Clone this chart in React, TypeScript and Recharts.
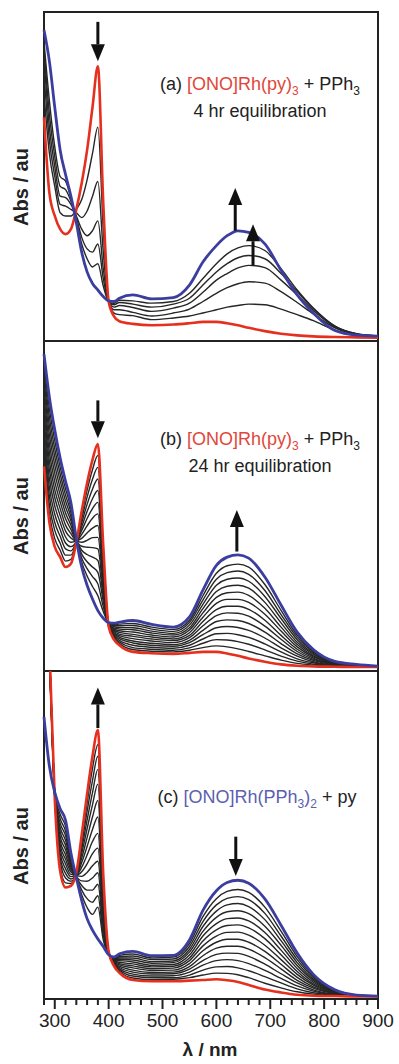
import React from 'react';
import { LineChart, Line, XAxis, YAxis, ReferenceArea, ReferenceLine } from 'recharts';

// wavelength grid (nm) shared by every spectrum
const wavelengths = [280, 290, 300, 310, 320, 330, 340, 350, 360, 370, 380, 390, 400, 410, 420, 445, 480, 520, 550, 575, 600, 620, 640, 660, 690, 720, 750, 780, 820, 860, 900];

// (a) 4 hr equilibration
const redA = [68, 45, 38, 34, 32.5, 34, 40, 48, 58, 71, 83.5, 42, 12, 7.5, 6, 5.2, 4.8, 5, 5.4, 5.8, 5.8, 5.4, 4.8, 4.0, 3.0, 2.2, 1.7, 1.4, 1.2, 1.1, 1.0];
const blueA = [94.5, 85, 71, 58, 50.6, 44, 36, 27, 21, 17.5, 15.5, 13.5, 12.2, 12, 13, 14, 12.8, 13.2, 17, 24, 29, 32, 33.5, 33, 29.5, 21.5, 14, 8.5, 3.2, 1.8, 1.5];
const blackA = [
  [75, 57, 47, 39, 38, 38, 40, 43, 49, 57, 65, 34, 12, 8.5, 8, 7.7, 6.5, 7, 7.6, 8.5, 9.5, 10.3, 10.8, 11.2, 11, 9.7, 8, 6.2, 3.3, 1.8, 1.3],
  [81, 61, 50, 41.5, 41, 40, 39, 37.5, 39.5, 44, 48.5, 27, 12, 9.5, 9.5, 8.7, 7.6, 8.5, 9.7, 12, 14.5, 16.2, 17.4, 18, 17.6, 15, 11.7, 8.2, 4, 2, 1.4],
  [86, 65, 53, 44, 43.6, 41.5, 38, 34, 32, 33.5, 36.5, 22, 12, 10.3, 10.8, 10.2, 9, 10, 11.5, 14.8, 18.5, 20.5, 22.2, 23, 22.3, 18.5, 14, 9.3, 4.3, 2.1, 1.4],
  [89, 69, 56, 47, 46, 42.5, 37.5, 31.5, 28, 27, 29.5, 19, 12, 11, 11.7, 11.2, 10.3, 11.2, 13, 17, 21, 23.5, 25.3, 26, 25, 20.5, 15, 9.8, 4.5, 2.2, 1.5],
  [91, 73, 59, 50, 48.6, 43.5, 37, 29.5, 25, 22.5, 23.5, 16.7, 12, 11.4, 12.4, 12.2, 11.5, 12, 14.5, 19, 23.5, 26.5, 28.3, 29, 27.5, 22, 15.5, 10, 4.5, 2.2, 1.5],
];

// (b) 24 hr equilibration
const redB = [62, 45, 37.6, 34.5, 31.5, 32.5, 39, 48.5, 57, 64, 68.8, 38, 13.5, 9.5, 7.8, 5.8, 5.4, 5.2, 5.5, 5.8, 5.8, 5.3, 4.6, 3.8, 2.8, 2.0, 1.6, 1.4, 1.3, 1.2, 1.2];
const blueB = [96, 83, 73, 64.5, 57.5, 51, 40, 31.5, 26, 21.8, 18.3, 16, 14.7, 14.5, 14.8, 15.3, 14.1, 13.3, 16.4, 24.5, 32, 34.5, 35.2, 34.2, 28.5, 20, 11.8, 6.5, 2.9, 2.0, 1.5];
const blackB = [
  [64.4, 47.7, 40.1, 36.6, 33.3, 33.8, 39.1, 47.3, 54.8, 61.0, 65.3, 36.5, 13.6, 9.9, 8.3, 6.5, 6.0, 5.8, 6.3, 7.1, 7.6, 7.3, 6.7, 5.9, 4.6, 3.3, 2.3, 1.8, 1.4, 1.3, 1.2],
  [66.8, 50.3, 42.6, 38.7, 35.1, 35.1, 39.1, 46.1, 52.7, 58.1, 61.7, 34.9, 13.7, 10.2, 8.8, 7.1, 6.6, 6.3, 7.0, 8.4, 9.5, 9.4, 8.9, 8.1, 6.4, 4.5, 3.0, 2.1, 1.5, 1.3, 1.2],
  [69.1, 53.0, 45.0, 40.8, 37.0, 36.4, 39.2, 44.9, 50.5, 55.1, 58.2, 33.4, 13.8, 10.6, 9.3, 7.8, 7.2, 6.9, 7.8, 9.7, 11.3, 11.4, 11.0, 10.2, 8.2, 5.8, 3.7, 2.5, 1.6, 1.4, 1.3],
  [71.5, 55.6, 47.5, 42.9, 38.8, 37.7, 39.3, 43.7, 48.3, 52.2, 54.7, 31.8, 13.8, 10.9, 9.8, 8.5, 7.8, 7.5, 8.6, 11.0, 13.1, 13.5, 13.2, 12.3, 10.0, 7.0, 4.5, 2.8, 1.7, 1.4, 1.3],
  [73.9, 58.3, 50.0, 45.0, 40.6, 39.0, 39.4, 42.6, 46.2, 49.2, 51.1, 30.3, 13.9, 11.3, 10.3, 9.1, 8.4, 8.0, 9.3, 12.3, 15.0, 15.5, 15.3, 14.4, 11.8, 8.3, 5.2, 3.2, 1.9, 1.5, 1.3],
  [76.3, 61.0, 52.5, 47.1, 42.4, 40.3, 39.4, 41.4, 44.0, 46.3, 47.6, 28.8, 14.0, 11.6, 10.7, 9.8, 9.1, 8.6, 10.1, 13.7, 16.8, 17.6, 17.5, 16.6, 13.6, 9.6, 5.9, 3.5, 2.0, 1.5, 1.3],
  [78.7, 63.6, 54.9, 49.2, 44.2, 41.6, 39.5, 40.2, 41.8, 43.3, 44.1, 27.2, 14.1, 12.0, 11.2, 10.5, 9.7, 9.2, 10.8, 15.0, 18.6, 19.6, 19.6, 18.7, 15.4, 10.8, 6.6, 3.9, 2.1, 1.6, 1.3],
  [81.0, 66.3, 57.4, 51.3, 46.1, 42.9, 39.6, 39.0, 39.6, 40.4, 40.5, 25.7, 14.2, 12.3, 11.7, 11.1, 10.3, 9.7, 11.6, 16.3, 20.5, 21.7, 21.7, 20.8, 17.2, 12.1, 7.3, 4.3, 2.2, 1.6, 1.4],
  [83.4, 68.9, 59.9, 53.4, 47.9, 44.2, 39.6, 37.8, 37.5, 37.4, 37.0, 24.1, 14.3, 12.7, 12.2, 11.8, 10.9, 10.3, 12.4, 17.6, 22.3, 23.7, 23.9, 22.9, 19.0, 13.3, 8.0, 4.6, 2.3, 1.7, 1.4],
  [85.8, 71.6, 62.4, 55.5, 49.7, 45.5, 39.7, 36.6, 35.3, 34.5, 33.5, 22.6, 14.3, 13.0, 12.7, 12.5, 11.5, 10.9, 13.1, 18.9, 24.1, 25.7, 26.0, 25.1, 20.8, 14.6, 8.7, 5.0, 2.4, 1.8, 1.4],
  [88.2, 74.3, 64.9, 57.6, 51.5, 46.7, 39.8, 35.4, 33.1, 31.5, 29.9, 21.1, 14.4, 13.4, 13.2, 13.1, 12.1, 11.4, 13.9, 20.2, 26.0, 27.8, 28.2, 27.2, 22.6, 15.9, 9.5, 5.3, 2.5, 1.8, 1.4],
  [90.6, 76.9, 67.3, 59.7, 53.3, 48.0, 39.8, 34.2, 31.0, 28.6, 26.4, 19.5, 14.5, 13.7, 13.7, 13.8, 12.7, 12.0, 14.7, 21.5, 27.8, 29.8, 30.3, 29.3, 24.4, 17.1, 10.2, 5.7, 2.6, 1.9, 1.5],
  [92.9, 79.6, 69.8, 61.8, 55.2, 49.3, 39.9, 33.0, 28.8, 25.6, 22.8, 18.0, 14.6, 14.1, 14.2, 14.4, 13.3, 12.6, 15.4, 22.8, 29.6, 31.9, 32.4, 31.5, 26.2, 18.4, 10.9, 6.0, 2.8, 1.9, 1.5],
];

// (c) [ONO]Rh(PPh3)2 + py
const redC = [150, 108, 61, 39, 34, 34.5, 38.5, 50, 62.5, 74, 82, 38, 14.5, 10, 8, 5.8, 5.4, 5.4, 5.6, 5.8, 6.0, 5.7, 5.2, 4.3, 2.9, 2.0, 1.3, 1.0, 0.9, 0.8, 0.8];
const blueC = [86, 71, 63, 58, 54.5, 44.5, 37, 30, 24.5, 21, 18.3, 16, 13.5, 12.8, 13.8, 14.5, 13.2, 13.3, 18, 27, 33, 35.5, 36.2, 35.3, 30.5, 22.5, 14, 7.5, 2.8, 1.2, 0.9];
const blackC = [
  [146, 107.5, 61.1, 40.3, 35.4, 35.2, 38.4, 48.6, 59.8, 70.3, 77.5, 36.5, 14.4, 10.2, 8.4, 6.4, 5.9, 6.0, 6.5, 7.3, 7.9, 7.8, 7.4, 6.5, 4.8, 3.4, 2.2, 1.5, 1.0, 0.8, 0.8],
  [144, 107, 61.3, 41.7, 36.9, 35.9, 38.3, 47.2, 57.2, 66.6, 74, 34.9, 14.4, 10.4, 8.8, 7.0, 6.5, 6.5, 7.3, 8.8, 9.8, 9.9, 9.5, 8.6, 6.8, 4.9, 3.1, 1.9, 1.2, 0.9, 0.8],
  [141, 106.5, 61.4, 43.0, 38.3, 36.6, 38.2, 45.8, 54.5, 62.9, 70, 33.4, 14.3, 10.6, 9.2, 7.6, 7.0, 7.1, 8.2, 10.3, 11.7, 12.0, 11.7, 10.8, 8.7, 6.3, 4.0, 2.4, 1.3, 0.9, 0.8],
  [139, 106, 61.6, 44.3, 39.7, 37.3, 38.1, 44.4, 51.9, 59.2, 65.5, 31.8, 14.2, 10.8, 9.6, 8.2, 7.6, 7.7, 9.1, 11.7, 13.6, 14.0, 13.9, 13.0, 10.6, 7.7, 4.9, 2.8, 1.4, 0.9, 0.8],
  [136, 105.5, 61.7, 45.7, 41.2, 38.0, 38.0, 43.0, 49.2, 55.5, 60.5, 30.3, 14.2, 11.0, 10.0, 8.8, 8.1, 8.2, 9.9, 13.2, 15.5, 16.1, 16.1, 15.2, 12.6, 9.2, 5.7, 3.3, 1.6, 0.9, 0.8],
  [134, 105, 61.8, 47.0, 42.6, 38.7, 37.9, 41.6, 46.5, 51.7, 55.5, 28.8, 14.1, 11.2, 10.4, 9.5, 8.7, 8.8, 10.8, 14.7, 17.3, 18.2, 18.2, 17.3, 14.5, 10.6, 6.6, 3.7, 1.7, 1.0, 0.8],
  [131, 104.5, 62.0, 48.3, 44.0, 39.4, 37.8, 40.2, 43.9, 48.0, 50.5, 27.2, 14.0, 11.4, 10.8, 10.1, 9.2, 9.4, 11.7, 16.2, 19.2, 20.3, 20.4, 19.5, 16.4, 12.0, 7.5, 4.2, 1.8, 1.0, 0.9],
  [129, 104, 62.1, 49.6, 45.5, 40.1, 37.7, 38.8, 41.2, 44.3, 46, 25.7, 13.9, 11.6, 11.2, 10.7, 9.8, 10.0, 12.5, 17.7, 21.1, 22.4, 22.6, 21.7, 18.4, 13.5, 8.4, 4.6, 2.0, 1.0, 0.9],
  [126, 103.5, 62.3, 51.0, 46.9, 40.8, 37.6, 37.4, 38.6, 40.6, 42, 24.1, 13.9, 11.8, 11.7, 11.3, 10.3, 10.5, 13.4, 19.2, 23.0, 24.5, 24.7, 23.8, 20.3, 14.9, 9.3, 5.1, 2.1, 1.1, 0.9],
  [124, 103, 62.4, 52.3, 48.4, 41.5, 37.5, 36.0, 35.9, 36.9, 38.5, 22.6, 13.8, 12.0, 12.1, 11.9, 10.9, 11.1, 14.3, 20.6, 24.9, 26.6, 26.9, 26.0, 22.2, 16.4, 10.2, 5.6, 2.2, 1.1, 0.9],
  [121, 102.5, 62.5, 53.6, 49.8, 42.2, 37.3, 34.6, 33.2, 33.2, 35, 21.1, 13.7, 12.2, 12.5, 12.5, 11.4, 11.6, 15.1, 22.1, 26.8, 28.7, 29.1, 28.2, 24.2, 17.8, 11.1, 6.0, 2.4, 1.1, 0.9],
  [119, 102, 62.7, 55.0, 51.2, 42.9, 37.2, 33.2, 30.6, 29.5, 31.5, 19.5, 13.7, 12.4, 12.9, 13.1, 12.0, 12.2, 16.0, 23.6, 28.7, 30.7, 31.2, 30.3, 26.1, 19.2, 12.0, 6.5, 2.5, 1.1, 0.9],
  [116, 101.5, 62.8, 56.3, 52.7, 43.6, 37.1, 31.8, 27.9, 25.8, 28, 18.0, 13.6, 12.5, 13.3, 13.7, 12.5, 12.8, 16.9, 25.1, 30.6, 32.8, 33.4, 32.5, 28.0, 20.7, 12.9, 6.9, 2.6, 1.2, 0.9],
];

// arrows: wavelength, start and end absorbance (arrow tip at "to")
const arrowsA = [{ x: 380, from: 97, to: 85 }, { x: 635, from: 33.5, to: 46.5 }, { x: 668, from: 23, to: 35.5 }];
const arrowsB = [{ x: 380, from: 82, to: 70.5 }, { x: 638, from: 36.2, to: 48.8 }];
const arrowsC = [{ x: 380, from: 82.6, to: 95 }, { x: 636, from: 49.5, to: 37.5 }];

const axisTicks = [280, 300, 320, 340, 360, 380, 400, 420, 440, 460, 480, 500, 520, 540, 560, 580, 600, 620, 640, 660, 680, 700, 720, 740, 760, 780, 800, 820, 840, 860, 880, 900];
const majorTicks = [300, 400, 500, 600, 700, 800, 900];

const RED = '#e5301f';
const BLUE = '#3b3e9e';
const BLACK = '#262626';
const FONT = '"Liberation Sans", Arial, Helvetica, sans-serif';

function buildRows(red: number[], blue: number[], blacks: number[][]) {
  return wavelengths.map((w, i) => {
    const row: Record<string, number> = { w, red: red[i], blue: blue[i] };
    blacks.forEach((c, j) => {
      row['k' + j] = c[i];
    });
    return row;
  });
}

const ArrowShape = (props: any) => {
  const { x1, y1, x2, y2 } = props;
  const dir = y2 < y1 ? -1 : 1;
  const baseY = y2 - dir * 17;
  return (
    <g>
      <line x1={x1} y1={y1} x2={x2} y2={baseY} stroke="#111" strokeWidth={3} />
      <polygon points={`${x2 - 7},${baseY} ${x2 + 7},${baseY} ${x2},${y2}`} fill="#111" />
    </g>
  );
};

const AxisTick = (props: any) => {
  const { x, y, payload } = props;
  const major = majorTicks.includes(payload.value);
  return (
    <g>
      <line x1={x} y1={y} x2={x} y2={y + (major ? 10 : 6)} stroke="#222" strokeWidth={2} />
      {major && (
        <text x={x} y={y + 28} textAnchor="middle" fontSize={19} fill="#222" fontFamily={FONT}>
          {payload.value}
        </text>
      )}
    </g>
  );
};

interface PanelProps {
  top: number;
  height: number;
  marginTop: number;
  marginBottom: number;
  red: number[];
  blue: number[];
  blacks: number[][];
  arrows: { x: number; from: number; to: number }[];
  showAxis?: boolean;
}

function Panel({ top, height, marginTop, marginBottom, red, blue, blacks, arrows, showAxis }: PanelProps) {
  const rows = buildRows(red, blue, blacks);
  return (
    <div style={{ position: 'absolute', left: 0, top }}>
      <LineChart width={399} height={height} data={rows} margin={{ top: marginTop, right: 21, bottom: marginBottom, left: 44 }}>
        <XAxis
          dataKey="w"
          type="number"
          domain={[280, 900]}
          ticks={axisTicks}
          interval={0}
          hide={!showAxis}
          height={65}
          tickSize={0}
          tickMargin={0}
          tickLine={false}
          axisLine={false}
          tick={AxisTick}
        />
        <YAxis type="number" domain={[0, 100]} allowDataOverflow hide />
        {blacks.map((_, j) => (
          <Line
            key={j}
            dataKey={'k' + j}
            type="monotone"
            stroke={BLACK}
            strokeWidth={1.4}
            dot={false}
            activeDot={false}
            isAnimationActive={false}
          />
        ))}
        <Line dataKey="red" type="monotone" stroke={RED} strokeWidth={2.6} dot={false} activeDot={false} isAnimationActive={false} />
        <Line dataKey="blue" type="monotone" stroke={BLUE} strokeWidth={2.8} dot={false} activeDot={false} isAnimationActive={false} />
        {arrows.map((a, i) => (
          <ReferenceLine
            key={i}
            segment={[{ x: a.x, y: a.from }, { x: a.x, y: a.to }]}
            ifOverflow="visible"
            shape={ArrowShape}
          />
        ))}
        <ReferenceArea x1={280} x2={900} y1={0} y2={100} fill="none" stroke="#222" strokeWidth={2} ifOverflow="visible" />
      </LineChart>
    </div>
  );
}

const Sub = ({ children }: { children: React.ReactNode }) => (
  <span style={{ fontSize: 12, position: 'relative', top: 5 }}>{children}</span>
);

const AbsLabel = ({ cy }: { cy: number }) => (
  <div
    style={{
      position: 'absolute',
      left: 21,
      top: cy,
      transform: 'translate(-50%, -50%) rotate(-90deg)',
      fontWeight: 'bold',
      fontSize: 20,
      whiteSpace: 'nowrap',
      color: '#222',
    }}
  >
    Abs / au
  </div>
);

export default function App() {
  const titleStyle: React.CSSProperties = {
    position: 'absolute',
    left: 150,
    width: 220,
    textAlign: 'center',
    fontSize: 18,
    lineHeight: '25px',
    whiteSpace: 'nowrap',
    color: '#222',
  };
  return (
    <div style={{ position: 'absolute', left: 0, top: 0, width: 399, height: 1064, fontFamily: FONT, background: '#fff' }}>
      <Panel top={0} height={342} marginTop={12} marginBottom={1} red={redA} blue={blueA} blacks={blackA} arrows={arrowsA} />
      <Panel top={341} height={330} marginTop={0} marginBottom={0} red={redB} blue={blueB} blacks={blackB} arrows={arrowsB} />
      <Panel top={671} height={393} marginTop={0} marginBottom={0} red={redC} blue={blueC} blacks={blackC} arrows={arrowsC} showAxis />

      <div style={{ ...titleStyle, top: 72 }}>
        <div>
          (a) <span style={{ color: '#e0473a' }}>[ONO]Rh(py)<Sub>3</Sub></span> + PPh<Sub>3</Sub>
        </div>
        <div>4 hr equilibration</div>
      </div>
      <div style={{ ...titleStyle, top: 427 }}>
        <div>
          (b) <span style={{ color: '#e0473a' }}>[ONO]Rh(py)<Sub>3</Sub></span> + PPh<Sub>3</Sub>
        </div>
        <div>24 hr equilibration</div>
      </div>
      <div style={{ ...titleStyle, top: 785, left: 147 }}>
        <div>
          (c) <span style={{ color: '#5b5fb0' }}>[ONO]Rh(PPh<Sub>3</Sub>)<Sub>2</Sub></span> + py
        </div>
      </div>

      <AbsLabel cy={187} />
      <AbsLabel cy={516} />
      <AbsLabel cy={846} />

      <div
        style={{
          position: 'absolute',
          left: 210,
          top: 1050,
          transform: 'translate(-50%, -50%)',
          fontWeight: 'bold',
          fontSize: 19,
          lineHeight: '22px',
          whiteSpace: 'nowrap',
          color: '#222',
        }}
      >
        λ / nm
      </div>
    </div>
  );
}
